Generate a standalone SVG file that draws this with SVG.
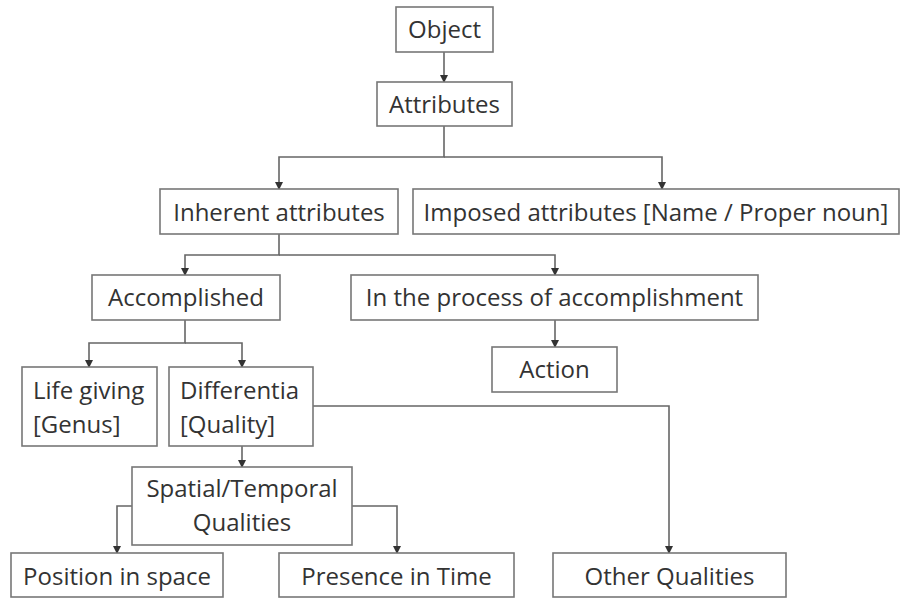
<svg xmlns="http://www.w3.org/2000/svg" width="903" height="598" viewBox="0 0 903 598">
<defs>
<marker id="ah" markerWidth="8" markerHeight="8" refX="7" refY="4" orient="auto" markerUnits="userSpaceOnUse">
<path d="M0,0 L8,4 L0,8 Z" fill="#333"/>
</marker>
<style>
.box{fill:#fff;stroke:#777;stroke-width:1.6}
.t{font-family:"Open Sans","Noto Sans",sans-serif;font-size:24px;fill:#333}
.c{text-anchor:middle}
.ln{fill:none;stroke:#666;stroke-width:1.6}
</style>
</defs>
<rect width="903" height="598" fill="#fff"/>
<g id="connectors">
<path class="ln" d="M444,52 V82" marker-end="url(#ah)"/>
<path class="ln" d="M444,126 V157 H279 V189" marker-end="url(#ah)"/>
<path class="ln" d="M444,157 H662 V189" marker-end="url(#ah)"/>
<path class="ln" d="M279,234 V255 H185 V275" marker-end="url(#ah)"/>
<path class="ln" d="M279,255 H555 V275" marker-end="url(#ah)"/>
<path class="ln" d="M555,320 V347" marker-end="url(#ah)"/>
<path class="ln" d="M185,320 V343 H89 V367" marker-end="url(#ah)"/>
<path class="ln" d="M185,343 H242 V367" marker-end="url(#ah)"/>
<path class="ln" d="M313,406 H669 V553" marker-end="url(#ah)"/>
<path class="ln" d="M242,446 V467" marker-end="url(#ah)"/>
<path class="ln" d="M132,506 H117 V553" marker-end="url(#ah)"/>
<path class="ln" d="M352,506 H397 V553" marker-end="url(#ah)"/>
</g>
<g id="object"><rect class="box" x="396" y="7" width="97" height="45"/><text class="t c" x="444.5" y="38">Object</text></g>
<g id="attributes"><rect class="box" x="377" y="82" width="135" height="44"/><text class="t c" x="444.5" y="113">Attributes</text></g>
<g id="inherent"><rect class="box" x="160" y="189" width="238" height="45"/><text class="t c" x="279" y="221">Inherent attributes</text></g>
<g id="imposed"><rect class="box" x="413" y="189" width="486" height="45"/><text class="t c" x="656" y="221">Imposed attributes [Name / Proper noun]</text></g>
<g id="accomplished"><rect class="box" x="92" y="275" width="188" height="45"/><text class="t c" x="186" y="306">Accomplished</text></g>
<g id="process"><rect class="box" x="351" y="275" width="407" height="45"/><text class="t c" x="554.5" y="306">In the process of accomplishment</text></g>
<g id="action"><rect class="box" x="492" y="347" width="125" height="45"/><text class="t c" x="554.5" y="378">Action</text></g>
<g id="lifegiving"><rect class="box" x="22" y="367" width="135" height="79"/><text class="t" x="33" y="399">Life giving</text><text class="t" x="33" y="433">[Genus]</text></g>
<g id="differentia"><rect class="box" x="169" y="367" width="144" height="79"/><text class="t" x="180" y="399">Differentia</text><text class="t" x="180" y="433">[Quality]</text></g>
<g id="spatial"><rect class="box" x="132" y="467" width="220" height="78"/><text class="t c" x="242" y="497">Spatial/Temporal</text><text class="t c" x="242" y="531">Qualities</text></g>
<g id="position"><rect class="box" x="11" y="553" width="212" height="44"/><text class="t c" x="117" y="585">Position in space</text></g>
<g id="presence"><rect class="box" x="279" y="553" width="235" height="44"/><text class="t c" x="396.5" y="585">Presence in Time</text></g>
<g id="other"><rect class="box" x="553" y="553" width="233" height="44"/><text class="t c" x="669.5" y="585">Other Qualities</text></g>
</svg>
